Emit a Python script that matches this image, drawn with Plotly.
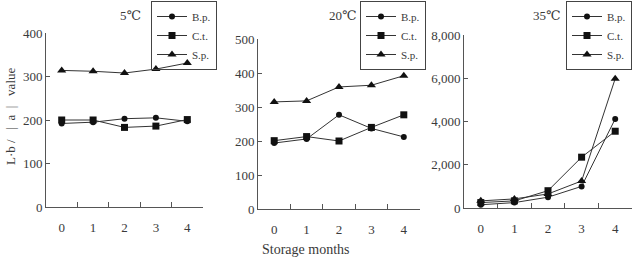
import plotly.graph_objects as go

months = ["0", "1", "2", "3", "4"]
series_names = ["B.p.", "C.t.", "S.p."]

# 5 °C
bp_5 = [192, 195, 203, 205, 197]
ct_5 = [200, 200, 183, 186, 201]
sp_5 = [314, 312, 308, 317, 331]

# 20 °C
bp_20 = [194, 206, 277, 237, 212]
ct_20 = [201, 213, 200, 240, 277]
sp_20 = [315, 318, 359, 364, 392]

# 35 °C
bp_35 = [150, 250, 500, 1000, 4120]
ct_35 = [250, 330, 800, 2350, 3550]
sp_35 = [330, 420, 650, 1250, 5980]

panel_titles = ["5℃", "20℃", "35℃"]
y_ranges = [[0, 400], [0, 500], [0, 8000]]
y_dticks = [100, 100, 2000]

W, H = 632, 259
FONT = "Liberation Serif, DejaVu Serif, serif"
TXT = "#3a3a3a"
LINE = "#333333"

symbols = ["circle", "square", "triangle-up"]
msizes = [6, 7, 8]

fig = go.Figure()
panels = [(bp_5, ct_5, sp_5), (bp_20, ct_20, sp_20), (bp_35, ct_35, sp_35)]
for p, data in enumerate(panels):
    ax = "" if p == 0 else str(p + 1)
    for s, vals in enumerate(data):
        fig.add_trace(go.Scatter(
            x=months, y=vals, name=series_names[s],
            mode="lines+markers",
            line=dict(color=LINE, width=1),
            marker=dict(symbol=symbols[s], size=msizes[s], color="#111111"),
            xaxis="x" + ax, yaxis="y" + ax,
            legend="legend" + ax,
        ))

# pixel geometry of each panel: x0, x1, ytop, ybottom
geom = [(46, 203, 33, 207), (258, 420, 39, 209), (464, 632, 35, 208)]
legend_right = [217, 426, 632]
title_x = [130, 343, 547]

layout = dict(
    width=W, height=H, margin=dict(l=0, r=0, t=0, b=0, pad=0, autoexpand=False),
    paper_bgcolor="white", plot_bgcolor="white",
    font=dict(family=FONT, size=12, color=TXT),
    showlegend=True,
)
for p in range(3):
    ax = "" if p == 0 else str(p + 1)
    x0, x1, yt, yb = geom[p]
    layout["xaxis" + ax] = dict(
        domain=[x0 / W, x1 / W], anchor="y" + ax, type="category",
        range=[-0.5, 4.5], showline=True, linecolor="#555", linewidth=1,
        ticks="inside", tickson="boundaries", ticklen=5, tickcolor="#555",
        showgrid=False, zeroline=False, ticklabelstandoff=8, automargin=False,
        tickfont=dict(family=FONT, size=13, color=TXT),
    )
    layout["yaxis" + ax] = dict(
        domain=[1 - yb / H, 1 - yt / H], anchor="x" + ax,
        range=y_ranges[p], dtick=y_dticks[p], tickformat=",",
        showline=True, linecolor="#555", linewidth=1,
        ticks="inside", ticklen=4, tickcolor="#555",
        showgrid=False, zeroline=False, automargin=False,
        tickfont=dict(family=FONT, size=13, color=TXT),
    )
    layout["legend" + ax] = dict(
        x=legend_right[p] / W, y=1 - 1 / H, xanchor="right", yanchor="top",
        bordercolor="#444", borderwidth=1, bgcolor="rgba(255,255,255,0)",
        font=dict(family=FONT, size=11, color=TXT),
        itemwidth=30, tracegroupgap=0,
    )

annotations = []
for p in range(3):
    annotations.append(dict(
        text=panel_titles[p], x=title_x[p] / W, y=1 - 16 / H,
        xref="paper", yref="paper", showarrow=False,
        xanchor="center", yanchor="middle",
        font=dict(family=FONT, size=13, color=TXT),
    ))
nb = "\u00a0"
ylabel = f"L·b{nb}/{nb}{nb}{nb}|{nb}{nb}a{nb}{nb}|{nb}{nb}{nb}value"
annotations.append(dict(
    text=ylabel, x=10 / W, y=1 - 117 / H, xref="paper", yref="paper",
    showarrow=False, textangle=-90, xanchor="center", yanchor="middle",
    font=dict(family=FONT, size=13, color=TXT),
))
annotations.append(dict(
    text="Storage months", x=306 / W, y=0, xref="paper", yref="paper",
    showarrow=False, xanchor="center", yanchor="bottom",
    font=dict(family=FONT, size=14, color=TXT),
))
layout["annotations"] = annotations

fig.update_layout(**layout)
fig.write_html("out.html")
